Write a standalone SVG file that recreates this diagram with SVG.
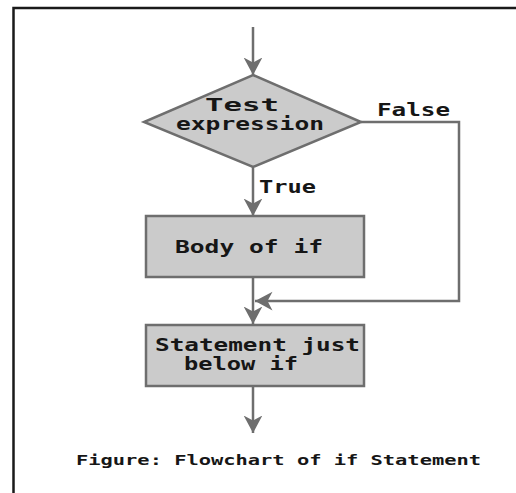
<svg xmlns="http://www.w3.org/2000/svg" width="516" height="493" viewBox="0 0 516 493">
<style>
.frame{fill:none;stroke:#1a1a1a;stroke-width:2.5}
.shape{fill:#cbcbcb;stroke:#6e6e6e;stroke-width:2.5}
.conn{fill:none;stroke:#6e6e6e;stroke-width:2.5;marker-end:url(#ah)}
.plain{fill:none;stroke:#6e6e6e;stroke-width:2.5}
text{font-family:"DejaVu Sans Mono","Liberation Mono",monospace;font-weight:bold;fill:#161616;font-size:17px}
.lbl{font-size:17px}
.cap{font-size:14px}
</style>
<defs>
<marker id="ah" markerUnits="userSpaceOnUse" markerWidth="20" markerHeight="20" viewBox="-14 -8 16 16" refX="0" refY="0" orient="auto">
<path d="M-14,-7.5 L0,0 L-14,7.5 L-10,0 z" fill="#6e6e6e"/>
</marker>
</defs>
<rect class="frame" x="13.5" y="8" width="520" height="500"/>
<g id="connectors">
<path class="conn" d="M253,27 V75"/>
<path class="conn" d="M253,167 V216"/>
<path class="conn" d="M253,277 V324"/>
<path class="conn" d="M361,122 H459 V301 H255"/>
<path class="conn" d="M253,386 V433"/>
</g>
<g id="decision">
<polygon class="shape" points="253,75 361,122 253,167 144,122"/>
<text x="205" y="111" textLength="74" lengthAdjust="spacingAndGlyphs">Test</text>
<text x="176" y="130" textLength="148" lengthAdjust="spacingAndGlyphs">expression</text>
</g>
<g id="label-false">
<text x="377" y="116" textLength="73" lengthAdjust="spacingAndGlyphs">False</text>
</g>
<g id="label-true">
<text x="259" y="193" textLength="57" lengthAdjust="spacingAndGlyphs">True</text>
</g>
<g id="body">
<rect class="shape" x="146" y="216" width="218" height="61"/>
<text x="175" y="253" textLength="148" lengthAdjust="spacingAndGlyphs">Body of if</text>
</g>
<g id="statement">
<rect class="shape" x="146" y="325" width="218" height="61"/>
<text x="155" y="351" textLength="205" lengthAdjust="spacingAndGlyphs">Statement just</text>
<text x="184" y="370" textLength="114" lengthAdjust="spacingAndGlyphs">below if</text>
</g>
<g id="caption">
<text class="cap" x="76" y="465" textLength="405" lengthAdjust="spacingAndGlyphs">Figure: Flowchart of if Statement</text>
</g>
</svg>
